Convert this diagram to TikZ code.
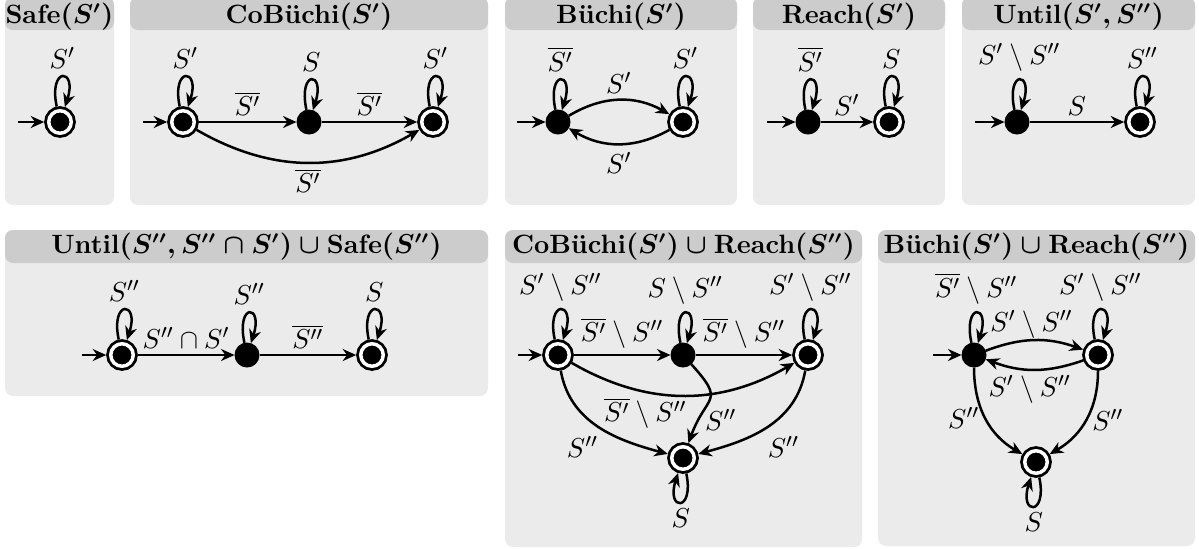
\documentclass[tikz,border=0pt]{standalone}
\usetikzlibrary{arrows.meta}
\definecolor{bodygray}{HTML}{EBEBEB}
\definecolor{bargray}{HTML}{CCCCCC}
\begin{document}
\begin{tikzpicture}[x=0.4pt,y=-0.4pt,
  font=\fontsize{11}{13}\selectfont, inner sep=2pt,
  st/.style={circle,fill=black,minimum size=10pt,inner sep=0pt,outer sep=0pt},
  acc/.style={circle,fill=black,draw=black,double=white,double distance=1.4pt,line width=1.12pt,minimum size=9pt,inner sep=0pt,outer sep=1.82pt},
  tr/.style={-{Stealth[length=5.4pt,width=4.8pt]},line width=1pt},
  lpa/.style={out=102,in=72,looseness=1,min distance=16.5pt},
  lpb/.style={out=-78,in=-108,looseness=1,min distance=16pt},
  ll/.style={inner sep=3pt},
  body/.style={fill=bodygray,rounded corners=3.2pt},
  bar/.style={fill=bargray,rounded corners=3.2pt},
  ttl/.style={font=\fontsize{10.6}{12}\selectfont\bfseries\boldmath,inner sep=0pt}
]
\useasboundingbox (0,0) rectangle (1199,548);
% ---------- panels ----------
\path[body] (5,-3) rectangle (114,205);   \path[bar] (5,-3) rectangle (114,30);
\path[body] (130,-3) rectangle (488,205); \path[bar] (130,-3) rectangle (488,30);
\path[body] (505,-3) rectangle (737,205); \path[bar] (505,-3) rectangle (737,30);
\path[body] (753,-3) rectangle (945,205); \path[bar] (753,-3) rectangle (945,30);
\path[body] (962,-3) rectangle (1195,205);\path[bar] (962,-3) rectangle (1195,30);
\path[body] (5,230) rectangle (488,396);   \path[bar] (5,230) rectangle (488,263);
\path[body] (505,230) rectangle (862,547); \path[bar] (505,230) rectangle (862,263);
\path[body] (878,230) rectangle (1195,546);\path[bar] (878,230) rectangle (1195,263);
\node[ttl] (t1) at (59.5,17) {Safe$(S')$};
\node[ttl] (t2) at (309,17) {CoBüchi$(S')$};
\node[ttl] (t3) at (621,17) {Büchi$(S')$};
\node[ttl] (t4) at (849,17) {Reach$(S')$};
\node[ttl] (t5) at (1078.5,17) {Until$(S',S'')$};
\node[ttl] (t6) at (246.5,247) {Until$(S'',S''\cap S')\cup{}$Safe$(S'')$};
\node[ttl] (t7) at (683.5,247) {CoBüchi$(S')\cup{}$Reach$(S'')$};
\node[ttl] (t8) at (1036.5,247) {Büchi$(S')\cup{}$Reach$(S'')$};
% ---------- Safe ----------
\node[acc] (s1) at (60,122) {};
\coordinate (i1) at (18,122);
\draw[tr] (i1) -- (s1);
\draw[tr] (s1) to[lpa] node[above,ll] {$S'$} (s1);
% ---------- CoBuchi ----------
\node[acc] (a1) at (183,122) {};
\node[st] (a2) at (309,122) {};
\node[acc] (a3) at (433,122) {};
\coordinate (i2) at (143,122);
\draw[tr] (i2) -- (a1);
\draw[tr] (a1) to[lpa] node[above,ll] {$S'$} (a1);
\draw[tr] (a2) to[lpa] node[above,ll] {$S$} (a2);
\draw[tr] (a3) to[lpa] node[above,ll] {$S'$} (a3);
\draw[tr] (a1) -- node[above] {$\overline{S'}$} (a2);
\draw[tr] (a2) -- node[above] {$\overline{S'}$} (a3);
\draw[tr] (a1) to[bend right=30] node[below] {$\overline{S'}$} (a3);
% ---------- Buchi ----------
\node[st] (b1) at (558,122) {};
\node[acc] (b2) at (683,122) {};
\coordinate (i3) at (517,122);
\draw[tr] (i3) -- (b1);
\draw[tr] (b1) to[lpa] node[above,ll] {$\overline{S'}$} (b1);
\draw[tr] (b2) to[lpa] node[above,ll] {$S'$} (b2);
\draw[tr] (b1) to[bend left=30] node[above] {$S'$} (b2);
\draw[tr] (b2) to[bend left=30] node[below,yshift=-1pt] {$S'$} (b1);
% ---------- Reach ----------
\node[st] (r1) at (808,122) {};
\node[acc] (r2) at (889,122) {};
\coordinate (i4) at (767,122);
\draw[tr] (i4) -- (r1);
\draw[tr] (r1) to[lpa] node[above,ll] {$\overline{S'}$} (r1);
\draw[tr] (r2) to[lpa] node[above,ll] {$S$} (r2);
\draw[tr] (r1) -- node[above] {$S'$} (r2);
% ---------- Until ----------
\node[st] (u1) at (1017,122) {};
\node[acc] (u2) at (1140,122) {};
\coordinate (i5) at (975,122);
\draw[tr] (i5) -- (u1);
\draw[tr] (u1) to[lpa] node[above,ll] {$S'\setminus S''$} (u1);
\draw[tr] (u2) to[lpa] node[above,ll] {$S''$} (u2);
\draw[tr] (u1) -- node[above] {$S$} (u2);
% ---------- Until cup Safe ----------
\node[acc] (v1) at (122,355) {};
\node[st] (v2) at (247,355) {};
\node[acc] (v3) at (372,355) {};
\coordinate (i6) at (82,355);
\draw[tr] (i6) -- (v1);
\draw[tr] (v1) to[lpa] node[above,ll] {$S''$} (v1);
\draw[tr] (v2) to[lpa] node[above,ll] {$S''$} (v2);
\draw[tr] (v3) to[lpa] node[above,ll] {$S$} (v3);
\draw[tr] (v1) -- node[above] {$S''\cap S'$} (v2);
\draw[tr] (v2) -- node[above] {$\overline{S''}$} (v3);
% ---------- CoBuchi cup Reach ----------
\node[acc] (c1) at (558,355) {};
\node[st] (c2) at (683,355) {};
\node[acc] (c3) at (808,355) {};
\node[acc] (c4) at (683,458) {};
\coordinate (i7) at (518,355);
\draw[tr] (i7) -- (c1);
\draw[tr] (c1) to[lpa] node[above,ll] {$S'\setminus S''$} (c1);
\draw[tr] (c2) to[lpa] node[above,ll] {$S\setminus S''$} (c2);
\draw[tr] (c3) to[lpa] node[above,ll] {$S'\setminus S''$} (c3);
\draw[tr] (c4) to[lpb] node[below,inner sep=2pt] {$S$} (c4);
\draw[tr] (c1) -- node[above] {$\overline{S'}\setminus S''$} (c2);
\draw[tr] (c2) -- node[above] {$\overline{S'}\setminus S''$} (c3);
\draw[tr] (c1) to[bend right=30] node[pos=0.33,below] {$\overline{S'}\setminus S''$} (c3);
\draw[tr] (c1) to[out=-80,in=165] node[pos=0.55,below left] {$S''$} (c4);
\draw[tr] (c2) to[out=-48,in=70,looseness=1.7] node[pos=0.8,right] {$S''$} (c4);
\draw[tr] (c3) to[out=-100,in=15] node[pos=0.55,below right] {$S''$} (c4);
% ---------- Buchi cup Reach ----------
\node[st] (d1) at (974,355) {};
\node[acc] (d2) at (1098,355) {};
\node[acc] (d4) at (1036,462) {};
\coordinate (i8) at (933,355);
\draw[tr] (i8) -- (d1);
\draw[tr] (d1) to[lpa] node[above,ll] {$\overline{S'}\setminus S''$} (d1);
\draw[tr] (d2) to[lpa] node[above,ll] {$S'\setminus S''$} (d2);
\draw[tr] (d4) to[lpb] node[below,inner sep=2pt] {$S$} (d4);
\draw[tr] (d1) to[bend left=20] node[pos=0.47,above,inner sep=0.5pt] {$S'\setminus S''$} (d2);
\draw[tr] (d2) to[bend left=20] node[pos=0.55,below] {$S'\setminus S''$} (d1);
\draw[tr] (d1) to[out=-90,in=150] node[left] {$S''$} (d4);
\draw[tr] (d2) to[out=-90,in=30] node[right] {$S''$} (d4);
\end{tikzpicture}
\end{document}
